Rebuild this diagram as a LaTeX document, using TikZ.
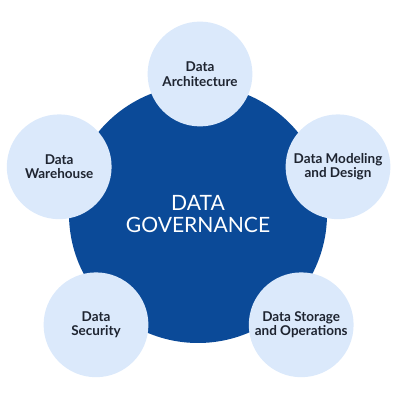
\documentclass[tikz,border=0pt]{standalone}
\usepackage{fontspec}
\setmainfont{Lato}
\definecolor{govblue}{HTML}{0B4A98}
\definecolor{partblue}{HTML}{DBE9FB}
\definecolor{parttext}{HTML}{1E2430}
\tikzset{
  hub/.style={circle, fill=govblue, minimum size=6.45cm, inner sep=0pt,
              text=white, font=\fontsize{15}{16}\selectfont, align=center},
  part/.style={circle, fill=partblue, minimum size=2.62cm, inner sep=0pt,
               text=parttext, font=\bfseries\fontsize{9.6}{10.3}\selectfont, align=center}
}
\begin{document}
\begin{tikzpicture}
  \useasboundingbox (0,0) rectangle (10,10);
  \node[hub] (gov) at (4.95,4.65) {DATA\\GOVERNANCE};
  % the five parts round the hub
  \node[part] (arch) at (5.0,8.15) {Data\\Architecture};
  \node[part] (model) at (8.45,5.83) {Data Modeling\\and Design};
  \node[part] (store) at (7.53,1.88) {Data Storage\\and Operations};
  \node[part] (secur) at (2.4,1.88) {Data\\Security};
  \node[part] (house) at (1.48,5.83) {Data\\Warehouse};
\end{tikzpicture}
\end{document}
